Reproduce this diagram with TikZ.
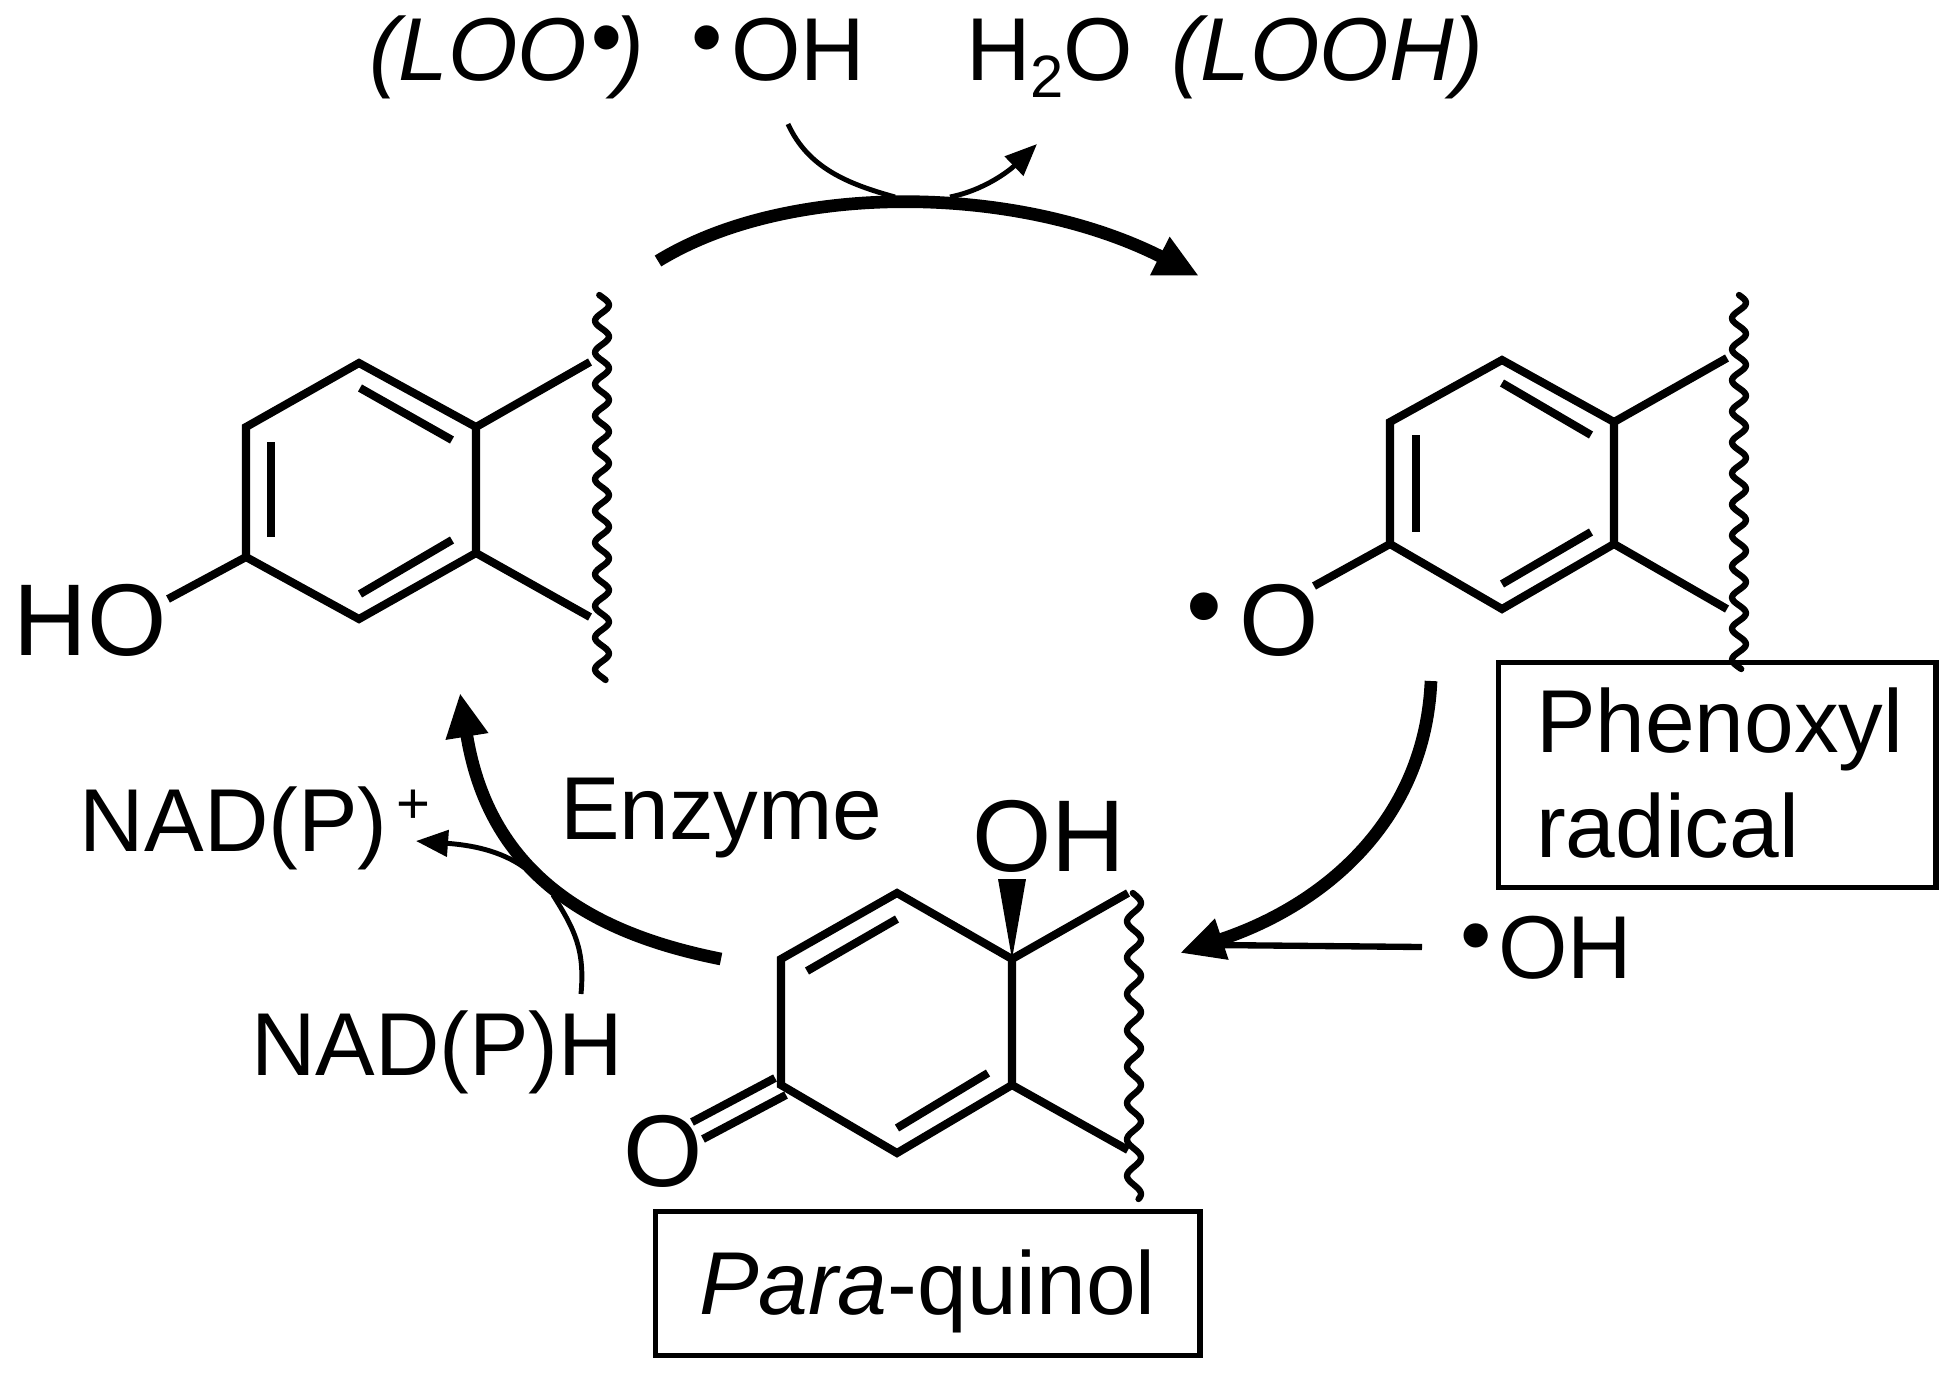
\documentclass[tikz,border=0pt]{standalone}
\usepackage{fontspec}
\setmainfont{Liberation Sans}
\usetikzlibrary{arrows.meta}
\newcommand{\rdot}{\raisebox{0.14em}{•}}
\tikzset{
  lab/.style={anchor=base west,inner sep=0pt,outer sep=0pt,font=\fontsize{25.4}{30}\selectfont},
  labtop/.style={lab,font=\fontsize{25.4}{30}\selectfont},
  labbig/.style={lab,font=\fontsize{29}{32}\selectfont},
  bond/.style={line width=2.3pt,line join=miter,line cap=butt},
  wavy/.style={line width=1.8pt,line join=round,line cap=round},
  frame/.style={draw,line width=1.5pt,inner sep=0pt},
  bigarrow/.style={line width=3.6pt,-{Triangle[length=0.44cm,width=0.40cm]}},
  bigarrowthin/.style={line width=1.8pt},
  smallarrow/.style={line width=1.4pt,-{Triangle[length=0.32cm,width=0.26cm]}},
  smallline/.style={line width=1.4pt}
}
\begin{document}
\begin{tikzpicture}[x=0.01cm,y=-0.01cm]
\useasboundingbox (0,0) rectangle (1948,1375);
% left ring
\coordinate (a1) at (359,363);\coordinate (a2) at (476,427);\coordinate (a3) at (476,553);
\coordinate (a4) at (359,619);\coordinate (a5) at (246,557);\coordinate (a6) at (246,427);
\draw[bond] (a1)--(a2)--(a3)--(a4)--(a5)--(a6)--cycle;
\coordinate (ad1) at (360,388);\coordinate (ad2) at (452,440);\draw[bond] (ad1)--(ad2);
\coordinate (ad3) at (360,594);\coordinate (ad4) at (452,540);\draw[bond] (ad3)--(ad4);
\coordinate (ad5) at (271,442);\coordinate (ad6) at (271,537);\draw[bond] (ad5)--(ad6);
\coordinate (as1) at (590,362);\coordinate (as2) at (590,617);\coordinate (ao) at (168,599);
\draw[bond] (a2)--(as1);\draw[bond] (a3)--(as2);\draw[bond] (a5)--(ao);
\draw[wavy] plot[domain=295:680,samples=200] ({602+7*sin(11.36*(\x-297))},\x);
\node[labbig] (ho) at (14,655) {HO};
% right ring
\coordinate (b1) at (1502,360);\coordinate (b2) at (1614,422);\coordinate (b3) at (1614,544);
\coordinate (b4) at (1502,609);\coordinate (b5) at (1390,544);\coordinate (b6) at (1390,422);
\draw[bond] (b1)--(b2)--(b3)--(b4)--(b5)--(b6)--cycle;
\coordinate (bd1) at (1502,383);\coordinate (bd2) at (1591,435);\draw[bond] (bd1)--(bd2);
\coordinate (bd3) at (1502,584);\coordinate (bd4) at (1591,532);\draw[bond] (bd3)--(bd4);
\coordinate (bd5) at (1416,435);\coordinate (bd6) at (1416,532);\draw[bond] (bd5)--(bd6);
\coordinate (bs1) at (1727,358);\coordinate (bs2) at (1727,609);\coordinate (bo) at (1314,586);
\draw[bond] (b2)--(bs1);\draw[bond] (b3)--(bs2);\draw[bond] (b5)--(bo);
\draw[wavy] plot[domain=295:669,samples=200] ({1739+7*sin(11.6*(\x-295))},\x);
\node[labbig] (orad) at (1186,655) {\rdot\kern0.17em O};
% quinol ring
\coordinate (c1) at (897,893);\coordinate (c2) at (1012,959);\coordinate (c3) at (1012,1085);
\coordinate (c4) at (897,1153);\coordinate (c5) at (781,1085);\coordinate (c6) at (781,959);
\draw[bond] (c1)--(c2)--(c3)--(c4)--(c5)--(c6)--cycle;
\coordinate (cd1) at (897,919);\coordinate (cd2) at (807,971);\draw[bond] (cd1)--(cd2);
\coordinate (cd3) at (897,1128);\coordinate (cd4) at (988,1073);\draw[bond] (cd3)--(cd4);
\coordinate (co1) at (775,1078);\coordinate (co2) at (692,1122);\draw[bond] (co1)--(co2);
\coordinate (co3) at (786,1095);\coordinate (co4) at (703,1139);\draw[bond] (co3)--(co4);
\coordinate (cw1) at (998,879);\coordinate (cw2) at (1026,879);\fill (c2)--(cw1)--(cw2)--cycle;
\coordinate (cs1) at (1128,893);\coordinate (cs2) at (1128,1150);
\draw[bond] (c2)--(cs1);\draw[bond] (c3)--(cs2);
\draw[wavy] plot[domain=893:1199,samples=170] ({1134+7*sin(9.9*(\x-894))},\x);
\node[labbig] (oq) at (623,1186) {O};
\node[labbig] (ohq) at (972,871) {OH};
% boxes
\node[frame,anchor=north west,minimum width=4.37cm,minimum height=2.25cm] (boxp) at (1496,660) {};
\node[frame,anchor=north west,minimum width=5.44cm,minimum height=1.44cm] (boxq) at (653,1209) {};
\node[lab] (phen) at (1536,752) {Phenoxyl};
\node[lab] (rad) at (1536,857) {radical};
\node[lab] (para) at (699,1314) {\textit{Para}-quinol};
\node[lab] (enz) at (560,839) {Enzyme};
\node[lab] (nadp) at (80,851) {NAD(P)\kern2.5pt\raisebox{7.7pt}{\fontsize{16.5}{18}\selectfont +}};
\node[lab] (nadh) at (251,1075) {NAD(P)H};
% top labels
\node[labtop] (loo) at (369,80) {\textit{(LOO\kern0.04em\rdot\kern-0.09em)}};
\node[labtop] (oh1) at (691,80) {\rdot\kern0.1em OH};
\node[labtop] (h2o) at (966,80) {H\raisebox{-5pt}{\fontsize{17}{18}\selectfont 2}O};
\node[labtop] (looh) at (1171,80) {\textit{(LOOH)}};
\node[lab] (oh2) at (1460,978) {\rdot\kern0.08em OH};
% arrows
\coordinate (t0) at (658,261);\coordinate (t1) at (1199,276);
\draw[bigarrow] (t0) .. controls (790,180) and (1020,185) .. (t1);
\coordinate (s0) at (788,124);\coordinate (s1) at (895,197);
\draw[smallline] (s0) .. controls (808,168) and (848,184) .. (s1);
\coordinate (s2) at (950,197);\coordinate (s3) at (1037,144);
\draw[smallarrow] (s2) .. controls (985,190) and (1010,170) .. (s3);
\coordinate (r0) at (1431,681);\coordinate (r1) at (1180,953);
\draw[bigarrow] (r0) .. controls (1425,820) and (1325,905) .. (r1);
\coordinate (h0) at (1422,947);\coordinate (h1) at (1215,945);
\draw[bigarrowthin] (h0)--(h1);
\coordinate (l0) at (721,959);\coordinate (l1) at (460,693);
\draw[bigarrow] (l0) .. controls (600,935) and (490,880) .. (l1);
\coordinate (n0) at (581,994);\coordinate (n1) at (553,895);
\draw[smallline] (n0) .. controls (585,950) and (575,930) .. (n1);
\coordinate (n2) at (525,868);\coordinate (n3) at (416,841);
\draw[smallarrow] (n2) .. controls (500,850) and (470,845) .. (n3);
\end{tikzpicture}
\end{document}
